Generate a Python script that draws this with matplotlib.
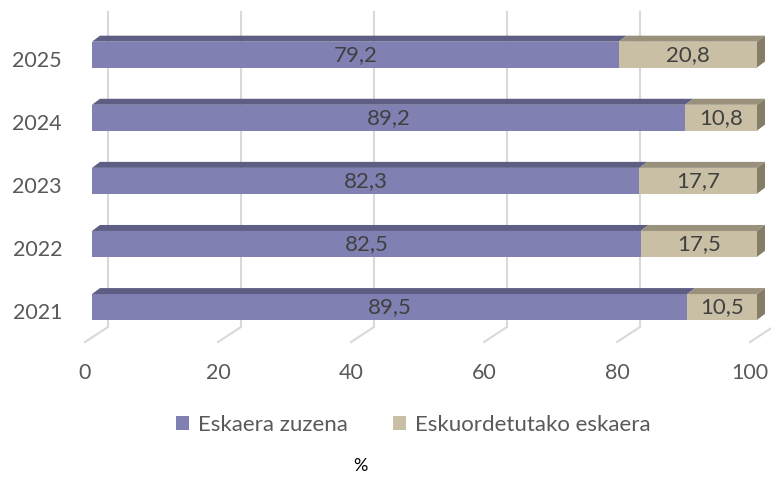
import matplotlib.pyplot as plt
from matplotlib.patches import Polygon, Patch

years = ["2021", "2022", "2023", "2024", "2025"]
zuzena = [89.5, 82.5, 82.3, 89.2, 79.2]
eskuordetutako = [10.5, 17.5, 17.7, 10.8, 20.8]
series_names = ["Eskaera zuzena", "Eskuordetutako eskaera"]
ticks = [0, 20, 40, 60, 80, 100]

front = ["#8080B3", "#C9BFA4"]
top = ["#5E5E84", "#9A917C"]
side = ["#5A5A7E", "#867D68"]

plt.rcParams['font.family'] = ['Lato', 'DejaVu Sans']

fig = plt.figure(figsize=(7.71, 4.78), dpi=100)
ax = fig.add_axes([0, 0, 1, 1])
# pixel scale: x px = 92 + 6.65*v ; y px = 307 - 63.1*i
ax.set_xlim(-92 / 6.65, (771 - 92) / 6.65)
ax.set_ylim((307 - 478) / 63.1, 307 / 63.1)
ax.axis("off")

h = 0.41
dx, dy = 1.2, 0.095          # bar depth
gx = 2.4                      # back wall offset

# back wall gridlines + floor
for t in ticks:
    ax.plot([t + gx, t + gx], [-0.317, 4.67], color="#D9D9D9", lw=1.5, zorder=0)
    ax.plot([t + gx, t - 1.05], [-0.317, -0.555], color="#D9D9D9", lw=1.5, zorder=0)
    ax.text(t - 1.05, -1.05, str(t), ha="center", va="center", fontsize=15.5, color="#595959")

ys = list(range(len(years)))
lefts = [0] * len(years)
for s, vals in enumerate([zuzena, eskuordetutako]):
    ax.barh(ys, vals, left=lefts, height=h, color=front[s], zorder=2)
    for i, (l, v) in enumerate(zip(lefts, vals)):
        y1 = i + h / 2
        ax.add_patch(Polygon([(l, y1), (l + v, y1), (l + v + dx, y1 + dy), (l + dx, y1 + dy)],
                             closed=True, facecolor=top[s], edgecolor="none", zorder=2))
        if s == 1:
            ax.add_patch(Polygon([(l + v, i - h / 2), (l + v, y1), (l + v + dx, y1 + dy),
                                  (l + v + dx, i - h / 2 + dy)],
                                 closed=True, facecolor=side[s], edgecolor="none", zorder=2))
        ax.text(l + v / 2, i, f"{v:.1f}".replace(".", ","), ha="center", va="center",
                fontsize=16, color="#404040", zorder=3)
    lefts = [a + b for a, b in zip(lefts, vals)]

for i, y in enumerate(years):
    ax.text(-4.5, i - 0.1, y, ha="right", va="center", fontsize=15.5, color="#595959")

handles = [Patch(facecolor=front[0]), Patch(facecolor=front[1])]
fig.legend(handles, series_names, loc="center", bbox_to_anchor=(0.536, 0.111), ncol=2,
           frameon=False, fontsize=16, handlelength=0.6, handleheight=0.6,
           handletextpad=0.4, columnspacing=2.0, labelcolor="#595959")
fig.text(360 / 771, 1 - 466 / 478, "%", ha="center", va="center", fontsize=13, color="black")

fig.savefig("out.png", dpi=100)
